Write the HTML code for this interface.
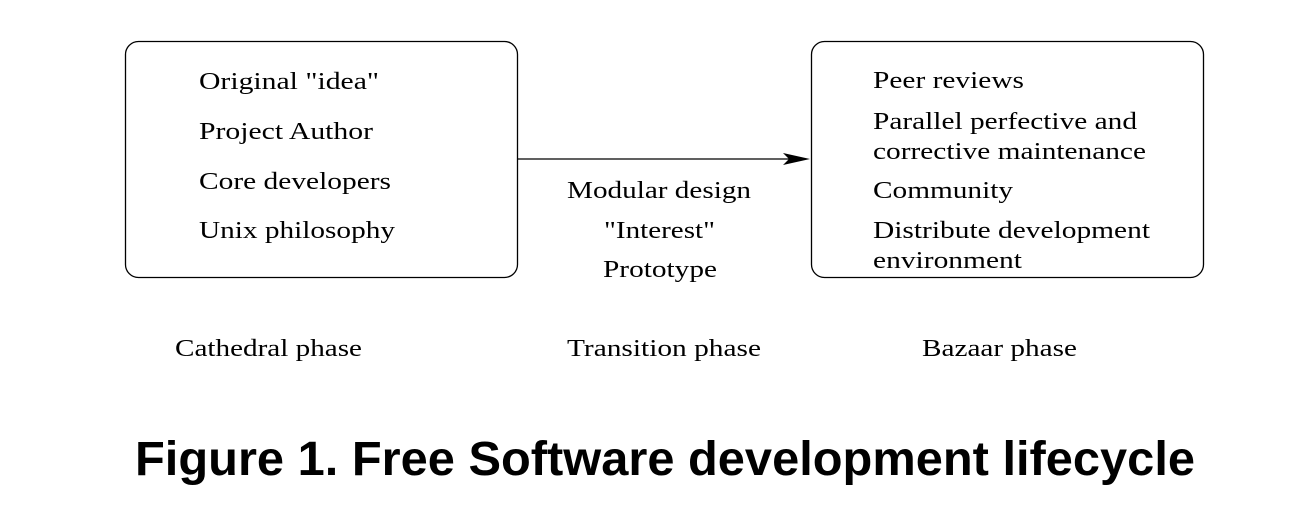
<!DOCTYPE html>
<html><head><meta charset="utf-8"><style>
html,body{margin:0;padding:0;background:#fff;}
svg{display:block;}
text{font-family:"Liberation Serif",serif;font-size:24px;fill:#000;}
</style></head><body>
<svg width="1308" height="530" viewBox="0 0 1308 530" xmlns="http://www.w3.org/2000/svg">
<rect x="125.5" y="41.5" width="392" height="236" rx="13" fill="none" stroke="#000" stroke-width="1.3"/>
<rect x="811.5" y="41.5" width="392" height="236" rx="13" fill="none" stroke="#000" stroke-width="1.3"/>
<line x1="517" y1="159" x2="790" y2="159" stroke="#000" stroke-width="1.3"/>
<path d="M810,159 L783,153 L789,159 L783,165 Z" fill="#000"/>
<g lengthAdjust="spacingAndGlyphs">
<text x="199" y="89" textLength="180" lengthAdjust="spacingAndGlyphs">Original "idea"</text>
<text x="199" y="139" textLength="174" lengthAdjust="spacingAndGlyphs">Project Author</text>
<text x="199" y="189" textLength="192" lengthAdjust="spacingAndGlyphs">Core developers</text>
<text x="199" y="238" textLength="196" lengthAdjust="spacingAndGlyphs">Unix philosophy</text>
<text x="873" y="88" textLength="151" lengthAdjust="spacingAndGlyphs">Peer reviews</text>
<text x="873" y="129" textLength="264" lengthAdjust="spacingAndGlyphs">Parallel perfective and</text>
<text x="873" y="159" textLength="273" lengthAdjust="spacingAndGlyphs">corrective maintenance</text>
<text x="873" y="198" textLength="140" lengthAdjust="spacingAndGlyphs">Community</text>
<text x="873" y="238" textLength="277" lengthAdjust="spacingAndGlyphs">Distribute development</text>
<text x="873" y="268" textLength="149" lengthAdjust="spacingAndGlyphs">environment</text>
<text x="567" y="198" textLength="184" lengthAdjust="spacingAndGlyphs">Modular design</text>
<text x="604" y="238" textLength="111" lengthAdjust="spacingAndGlyphs">"Interest"</text>
<text x="603" y="277" textLength="114" lengthAdjust="spacingAndGlyphs">Prototype</text>
<text x="175" y="356" textLength="187" lengthAdjust="spacingAndGlyphs">Cathedral phase</text>
<text x="567" y="356" textLength="194" lengthAdjust="spacingAndGlyphs">Transition phase</text>
<text x="922" y="356" textLength="155" lengthAdjust="spacingAndGlyphs">Bazaar phase</text>
</g>
<text x="135" y="475" textLength="1060" lengthAdjust="spacingAndGlyphs" style="font-family:'Liberation Sans',sans-serif;font-weight:bold;font-size:48px;">Figure 1. Free Software development lifecycle</text>
</svg>
</body></html>
